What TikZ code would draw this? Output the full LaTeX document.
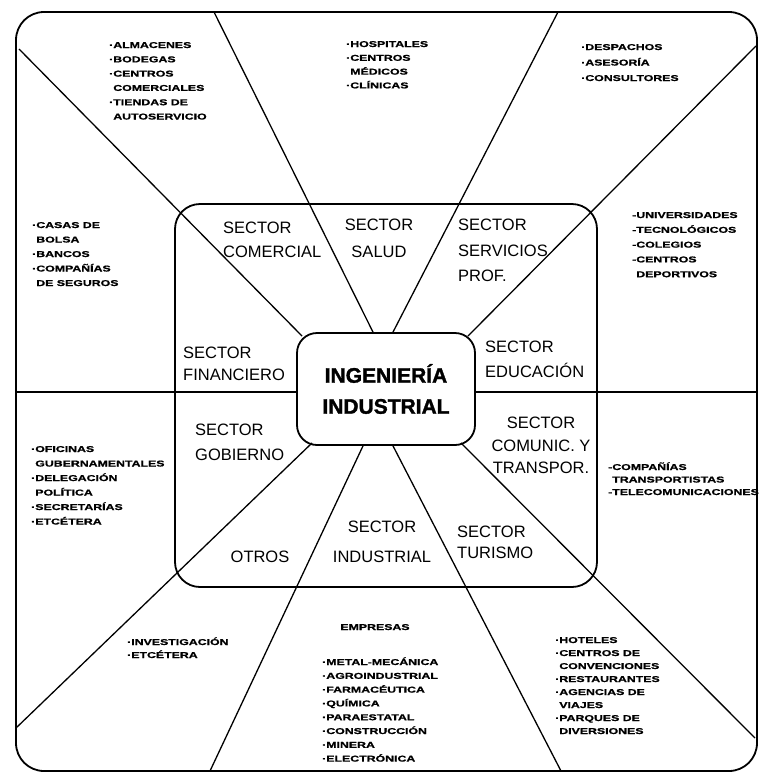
\documentclass[tikz,border=0pt]{standalone}
\usepackage{fontspec}
\setmainfont{Liberation Sans}
\newfontfamily\secfont{Liberation Sans}
\newfontfamily\lstfont{Liberation Sans}[FakeStretch=1.45,FakeBold=1.2]
\newfontfamily\titlefont{Liberation Sans}[FakeBold=1.5]
\begin{document}
\begin{tikzpicture}[x=1pt,y=-1pt,
  frameline/.style={line width=1.8pt},
  ray/.style={line width=1.3pt},
  sec/.style={inner sep=0pt, font=\secfont\fontsize{16.5}{#1}\selectfont},
  sec/.default=24,
  lst/.style={inner sep=0pt, anchor=base west, font=\lstfont\bfseries\fontsize{8.5}{14}\selectfont}]
\useasboundingbox (0,0) rectangle (767,774);

% outer frame and sector frame
\draw[frameline, rounded corners=28pt] (16,12) rectangle (757,771);
\draw[frameline, rounded corners=25pt] (175,204) rectangle (597,587);

% centre box
\node[draw, frameline, rounded corners=20pt, minimum width=178pt, minimum height=112pt,
      inner sep=0pt, align=center, fill=white,
      font=\titlefont\bfseries\fontsize{21}{31}\selectfont] (ie) at (386,389) {INGENIERÍA\\INDUSTRIAL};

% free ends of the rays on the outer frame
\coordinate (o1) at (19,49);
\coordinate (o2) at (214,12);
\coordinate (o3) at (558,12);
\coordinate (o4) at (756,46);
\coordinate (o5) at (755,738);
\coordinate (o6) at (561,771);
\coordinate (o7) at (210,771);
\coordinate (o8) at (16,728);
\coordinate (hl) at (16,392);
\coordinate (hr) at (757,392);

\draw[ray] ([shift={(6,4)}]ie.north west) -- (o1);
\draw[ray] ([shift={(-13,0)}]ie.north) -- (o2);
\draw[ray] ([shift={(7,0)}]ie.north) -- (o3);
\draw[ray] ([shift={(-8,4)}]ie.north east) -- (o4);
\draw[ray] ([shift={(-15,-3)}]ie.south east) -- (o5);
\draw[ray] ([shift={(7,0)}]ie.south) -- (o6);
\draw[ray] ([shift={(-23,0)}]ie.south) -- (o7);
\draw[ray] ([shift={(16,-3)}]ie.south west) -- (o8);
\draw[ray] (ie.west |- hl) -- (hl);
\draw[ray] (ie.east |- hr) -- (hr);

% sector names
\node[sec, align=left, anchor=west] (comercial) at (223,240) {SECTOR\\COMERCIAL};
\node[sec=27, align=center] (salud) at (379,238.5) {SECTOR\\SALUD};
\node[sec=25.5, align=left, anchor=west] (servicios) at (458,250.5) {SECTOR\\SERVICIOS\\PROF.};
\node[sec=22, align=left, anchor=west] (financiero) at (183,364) {SECTOR\\FINANCIERO};
\node[sec=25, align=left, anchor=west] (educacion) at (485,359.5) {SECTOR\\EDUCACIÓN};
\node[sec=25, align=left, anchor=west] (gobierno) at (195,442.5) {SECTOR\\GOBIERNO};
\node[sec=22.5, align=center] (comunic) at (541,445.5) {SECTOR\\COMUNIC. Y\\TRANSPOR.};
\node[sec=30, align=center] (industrial) at (382,542) {SECTOR\\INDUSTRIAL};
\node[sec=21, align=left, anchor=west] (turismo) at (457,542.5) {SECTOR\\TURISMO};
\node[sec] (otros) at (260,557) {OTROS};

% lists of activities
\foreach \t [count=\i from 0] in {·ALMACENES,·BODEGAS,·CENTROS,\phantom{·}COMERCIALES,·TIENDAS DE,\phantom{·}AUTOSERVICIO}
  \node[lst] (la\i) at (109,{48+14.3*\i}) {\t};
\foreach \t [count=\i from 0] in {·HOSPITALES,·CENTROS,\phantom{·}MÉDICOS,·CLÍNICAS}
  \node[lst] (lb\i) at (346,{47+13.8*\i}) {\t};
\foreach \t [count=\i from 0] in {·DESPACHOS,·ASESORÍA,·CONSULTORES}
  \node[lst] (lc\i) at (581,{50+15.5*\i}) {\t};
\foreach \t [count=\i from 0] in {·CASAS DE,\phantom{·}BOLSA,·BANCOS,·COMPAÑÍAS,\phantom{·}DE SEGUROS}
  \node[lst] (ld\i) at (32,{228+14.5*\i}) {\t};
\foreach \t [count=\i from 0] in {-UNIVERSIDADES,-TECNOLÓGICOS,-COLEGIOS,-CENTROS,\phantom{-}DEPORTIVOS}
  \node[lst] (le\i) at (632,{218+14.8*\i}) {\t};
\foreach \t [count=\i from 0] in {·OFICINAS,\phantom{·}GUBERNAMENTALES,·DELEGACIÓN,\phantom{·}POLÍTICA,·SECRETARÍAS,·ETCÉTERA}
  \node[lst] (lf\i) at (31,{452+14.5*\i}) {\t};
\foreach \t [count=\i from 0] in {-COMPAÑÍAS,\phantom{-}TRANSPORTISTAS,-TELECOMUNICACIONES}
  \node[lst] (lg\i) at (608,{470+12.5*\i}) {\t};
\foreach \t [count=\i from 0] in {·INVESTIGACIÓN,·ETCÉTERA}
  \node[lst] (lh\i) at (127,{645+13*\i}) {\t};
\node[lst, anchor=base] (empresas) at (375,630) {EMPRESAS};
\foreach \t [count=\i from 0] in {·METAL-MECÁNICA,·AGROINDUSTRIAL,·FARMACÉUTICA,·QUÍMICA,·PARAESTATAL,·CONSTRUCCIÓN,·MINERA,·ELECTRÓNICA}
  \node[lst] (li\i) at (322,{665+13.8*\i}) {\t};
\foreach \t [count=\i from 0] in {·HOTELES,·CENTROS DE,\phantom{·}CONVENCIONES,·RESTAURANTES,·AGENCIAS DE,\phantom{·}VIAJES,·PARQUES DE,\phantom{·}DIVERSIONES}
  \node[lst] (lj\i) at (555,{643+13*\i}) {\t};
\end{tikzpicture}
\end{document}
